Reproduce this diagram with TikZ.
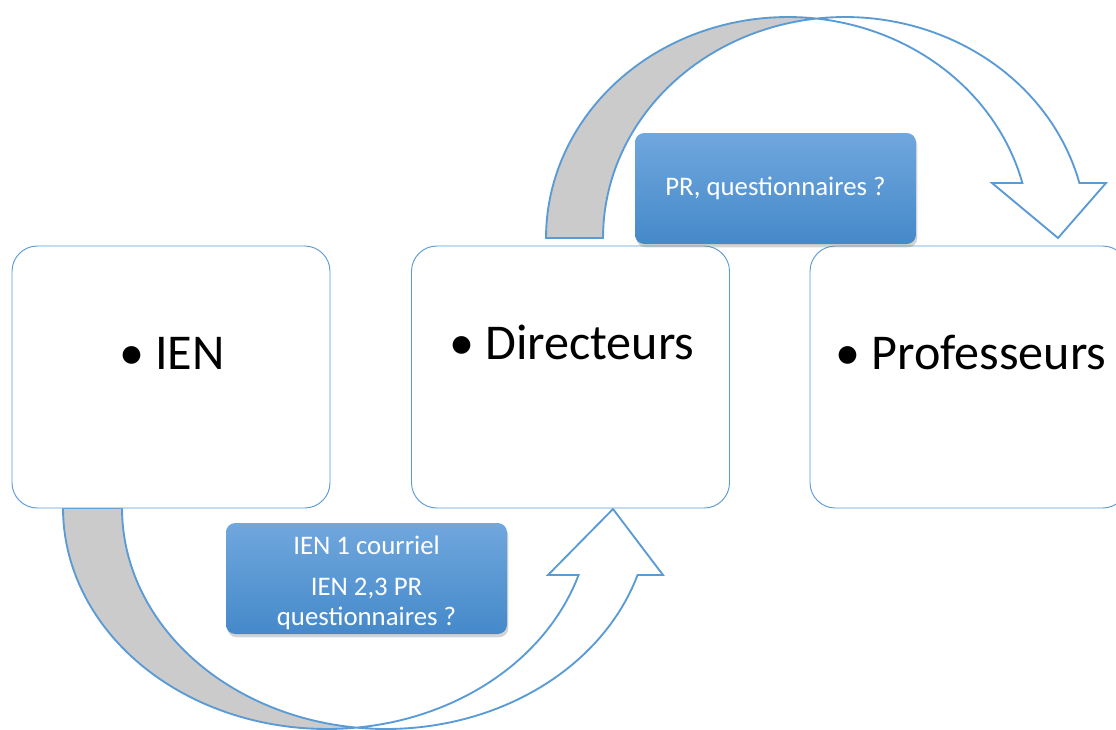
\documentclass[tikz,border=0pt]{standalone}
\usepackage{fontspec}
\setmainfont{Carlito}
\usetikzlibrary{shadows}
\definecolor{acc}{HTML}{5B9BD5}
\definecolor{graytail}{HTML}{CBCBCB}
\definecolor{lbltop}{HTML}{70A7DD}
\definecolor{lblbot}{HTML}{4589CA}
\tikzset{
  arrowline/.style={draw=acc, line width=1.4pt, line join=miter},
  box/.style={draw=acc, line width=0.7pt, fill=white, rounded corners=19pt,
    minimum width=238.5pt, minimum height=196.5pt, inner sep=0pt},
  boxtext/.style={anchor=base, font=\fontsize{37.6}{44}\selectfont, inner sep=0pt},
  lbl/.style={rounded corners=7pt, top color=lbltop, bottom color=lblbot,
    minimum width=210.75pt, minimum height=83.25pt, text=white, inner sep=2pt,
    font=\fontsize{20.1}{22.5}\selectfont, align=center,
    drop shadow={opacity=0.35, shadow xshift=1pt, shadow yshift=-2.5pt}}
}
\begin{document}
\begin{tikzpicture}[x=0.75pt,y=-0.75pt]
\useasboundingbox (0,0) rectangle (1116,729);
\clip (0,0) rectangle (1116,729);

% ---- top curved arrow (Directeurs -> Professeurs)
\fill[white] plot[domain=180:14.41,samples=90] ({788+242*cos(\x)},{238-221*sin(\x)})
  -- (992,183) -- (1058,238) -- (1106,183)
  -- plot[domain=14.41:180,samples=90] ({845+242*cos(\x)},{238-221*sin(\x)}) -- cycle;
\fill[graytail] plot[domain=180:83.24,samples=60] ({788+242*cos(\x)},{238-221*sin(\x)})
  -- plot[domain=96.76:180,samples=60] ({845+242*cos(\x)},{238-221*sin(\x)}) -- cycle;
\draw[arrowline] plot[domain=180:14.41,samples=90] ({788+242*cos(\x)},{238-221*sin(\x)})
  -- (992,183) -- (1058,238) -- (1106,183)
  -- plot[domain=14.41:180,samples=90] ({845+242*cos(\x)},{238-221*sin(\x)}) -- cycle;

% ---- bottom curved arrow (IEN -> Directeurs)
\fill[white] plot[domain=180:342.35,samples=90] ({327+264*cos(\x)},{508-221*sin(\x)})
  -- (548,575) -- (613,509) -- (663,575)
  -- plot[domain=342.35:180,samples=90] ({386+264*cos(\x)},{508-221*sin(\x)}) -- cycle;
\fill[graytail] plot[domain=180:276.41,samples=60] ({327+264*cos(\x)},{508-221*sin(\x)})
  -- plot[domain=263.59:180,samples=60] ({386+264*cos(\x)},{508-221*sin(\x)}) -- cycle;
\draw[arrowline] plot[domain=180:342.35,samples=90] ({327+264*cos(\x)},{508-221*sin(\x)})
  -- (548,575) -- (613,509) -- (663,575)
  -- plot[domain=342.35:180,samples=90] ({386+264*cos(\x)},{508-221*sin(\x)}) -- cycle;

% ---- boxes
\node[box] (ien) at (171,377) {};
\node[box] (dir) at (570.5,377) {};
\node[box] (prof) at (969,377) {};
\node[boxtext] (ient) at (172,369) {•\hspace{8pt}IEN};
\node[boxtext] (dirt) at (572,359) {•\hspace{8pt}Directeurs};
\node[boxtext] (proft) at (971,369) {•\hspace{8pt}Professeurs};

% ---- labels
\node[lbl] (lab1) at (366.5,578.5) {};
\node[text=white, font=\fontsize{20.1}{22.5}\selectfont, align=center, inner sep=0pt]
  (lab1t) at (366.5,583) {IEN 1 courriel\\[8pt]IEN 2,3 PR\\questionnaires ?};
\node[lbl] (lab2) at (775.5,188.5) {PR, questionnaires ?};
\end{tikzpicture}
\end{document}
